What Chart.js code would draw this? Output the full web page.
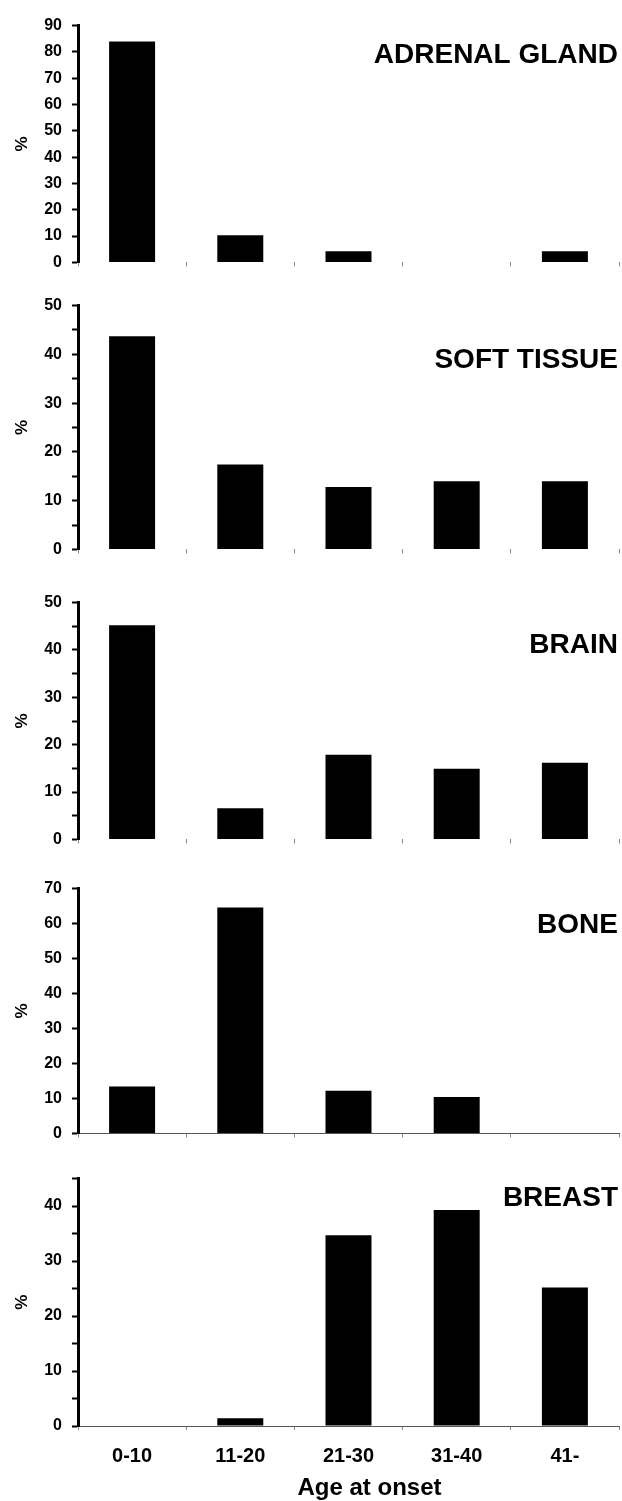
<!DOCTYPE html>
<html>
<head>
<meta charset="utf-8">
<script src="https://cdn.jsdelivr.net/npm/chart.js@4.4.1/dist/chart.umd.min.js"></script>
<style>
  html, body { margin: 0; padding: 0; background: #fff; }
  body { position: relative; width: 622px; height: 1501px; overflow: hidden; }
  canvas { position: absolute; left: 0; }
</style>
</head>
<body>
<canvas id="c0"></canvas>
<canvas id="c1"></canvas>
<canvas id="c2"></canvas>
<canvas id="c3"></canvas>
<canvas id="c4"></canvas>
<script>
// age groups (x axis)
const categories = ['0-10', '11-20', '21-30', '31-40', '41-'];

// % of cases per age group, one series per tumour site
const adrenalGland = [84.0, 10.3, 4.2, 0, 4.2];
const softTissue   = [43.7, 17.4, 12.8, 14.0, 14.0];
const brain        = [45.2, 6.6, 17.9, 14.9, 16.2];
const bone         = [13.4, 64.6, 12.2, 10.4, 0];
const breast       = [0, 1.4, 34.7, 39.3, 25.2];

const siteNames = ['ADRENAL GLAND', 'SOFT TISSUE', 'BRAIN', 'BONE', 'BREAST'];
const yMaxes    = [90, 50, 50, 70, 45];
const ySteps    = [10, 5, 5, 10, 5];
const xTitle    = 'Age at onset';

const seriesList = [adrenalGland, softTissue, brain, bone, breast];

// layout of the stacked panels (pixels on the page)
const plotTop    = [22, 302, 599, 885, 1175];
const plotBottom = [272, 559, 849, 1143, 1426];
const labelDy    = [30, 55, 43, 37, 20];
const topPad = 16;

const FONT = '"Liberation Sans", Arial, Helvetica, sans-serif';
Chart.defaults.font.family = FONT;
Chart.defaults.color = '#000';

// site name in the top right corner, and the shared x title under the last panel
const panelText = {
  id: 'panelText',
  afterDraw(chart, args, opts) {
    const {ctx, chartArea} = chart;
    ctx.save();
    ctx.fillStyle = '#000';
    ctx.textBaseline = 'middle';
    ctx.font = 'bold 28px ' + FONT;
    ctx.textAlign = 'right';
    ctx.fillText(opts.text, chartArea.right - 1, chartArea.top + opts.dy);
    if (opts.xTitle) {
      ctx.font = 'bold 24px ' + FONT;
      ctx.textAlign = 'center';
      ctx.fillText(opts.xTitle, (chartArea.left + chartArea.right) / 2 + 21, chartArea.bottom + 62);
    }
    ctx.restore();
  }
};

for (let i = 0; i < 5; i++) {
  const last = i === 4;
  const xAxisH = last ? 1501 - plotBottom[i] : 10;
  const cnv = document.getElementById('c' + i);
  const canvasTop = plotTop[i] - topPad;
  cnv.width = 622;
  cnv.height = plotBottom[i] - canvasTop + xAxisH;
  cnv.style.top = canvasTop + 'px';

  new Chart(cnv, {
    type: 'bar',
    data: {
      labels: categories,
      datasets: [{
        data: seriesList[i],
        backgroundColor: '#000',
        borderWidth: 0,
        barPercentage: 0.425,
        categoryPercentage: 1
      }]
    },
    plugins: [panelText],
    options: {
      responsive: false,
      animation: false,
      layout: { padding: { top: topPad, right: 3, left: 0, bottom: 0 } },
      plugins: {
        legend: { display: false },
        tooltip: { enabled: false },
        panelText: { text: siteNames[i], dy: labelDy[i], xTitle: last ? xTitle : null }
      },
      scales: {
        x: {
          ticks: {
            display: last,
            color: '#000',
            padding: 14,
            font: { size: 20, weight: 'bold' }
          },
          grid: {
            drawOnChartArea: false,
            drawTicks: true,
            tickLength: 4,
            tickWidth: 1,
            tickColor: '#888',
            offset: true
          },
          border: { display: i >= 3, color: '#555', width: 1 },
          afterFit: s => { s.height = xAxisH; }
        },
        y: {
          min: 0,
          max: yMaxes[i],
          ticks: {
            stepSize: ySteps[i],
            autoSkip: false,
            color: '#000',
            padding: 10,
            font: { size: 16, weight: 'bold' },
            callback: v => (v % 10 === 0 ? v : '')
          },
          grid: {
            drawOnChartArea: false,
            drawTicks: true,
            tickLength: 6,
            tickWidth: 2,
            tickColor: '#000'
          },
          border: { display: true, color: '#000', width: 3 },
          title: {
            display: true,
            text: '%',
            color: '#000',
            font: { size: 17, weight: 'bold' },
            padding: { top: 12, bottom: 0 }
          },
          afterFit: s => { s.width = 78; }
        }
      }
    }
  });
}
</script>
</body>
</html>
